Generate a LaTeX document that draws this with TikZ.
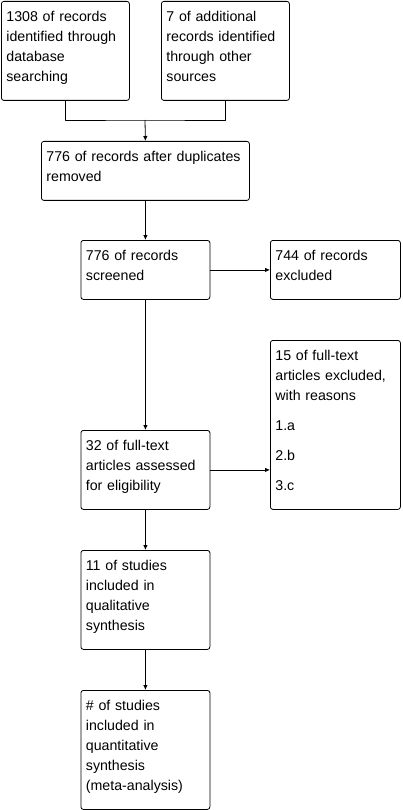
\documentclass[tikz,border=0pt]{standalone}
\usepackage{fontspec}
\setmainfont{Liberation Sans}
\usetikzlibrary{arrows.meta}
\newcommand{\boxfont}{\fontsize{14.2}{20}\selectfont}
\newcommand{\firstln}{\rule{0pt}{12pt}}
\newcommand{\lastln}{\rule[-11pt]{0pt}{11pt}}
\begin{document}
\begin{tikzpicture}[x=1pt, y=-1pt, line width=0.8pt, line join=round, >={Latex[length=5pt,width=4.5pt]},
	box/.style={draw, rounded corners=2.5pt, anchor=north west, align=left, inner xsep=5pt, inner ysep=8pt, font=\boxfont, text width=#1},
	box/.default=118pt]
	\useasboundingbox (0,0) rectangle (402,810);
	% identification
	\node[box] (A) at (1,1) {\firstln 1308 of records\\identified through\\database\\searching\lastln};
	\node[box] (B) at (161,1) {\firstln 7 of additional\\records identified\\through other\\sources\lastln};
	\node[box=198pt] (C) at (41,141) {\firstln 776 of records after duplicates\\removed\lastln};
	% screening
	\node[box=119pt] (D) at (80.5,240) {\firstln 776 of records\\screened\lastln};
	\node[box=120pt] (E) at (270,240) {\firstln 744 of records\\excluded\lastln};
	% eligibility
	\node[box=120pt] (F) at (270,340) {\firstln 15 of full-text\\articles excluded,\\with reasons\\[10pt]1.a\\[10pt]2.b\\[10pt]3.c\lastln};
	\node[box=119pt] (G) at (80.5,430) {\firstln 32 of full-text\\articles assessed\\for eligibility\lastln};
	% included
	\node[box=119pt] (H) at (80.5,550) {\firstln 11 of studies\\included in\\qualitative\\synthesis\lastln};
	\node[box=119pt] (I) at (80.5,690) {\firstln\# of studies\\included in\\quantitative\\synthesis\\(meta-analysis)\lastln};
	\coordinate (join) at (145,120);
	\draw (A.south) |- (join) -| (B.south);
	\draw[->] (join) -- (C.north);
	\draw[->] (C) -- (D);
	\draw[->] (D) -- (E);
	\draw[->] (D) -- (G);
	\draw[->] (G.east) -- (G.east -| F.west);
	\draw[->] (G) -- (H);
	\draw[->] (H) -- (I);
\end{tikzpicture}
\end{document}
